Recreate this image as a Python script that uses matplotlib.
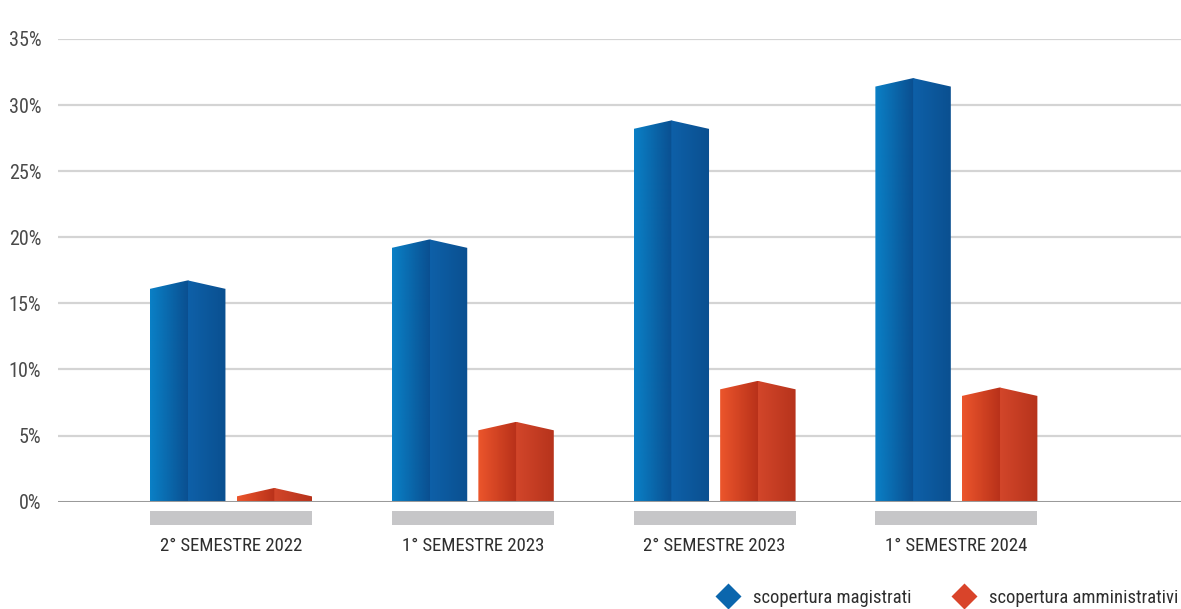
import numpy as np
import matplotlib
matplotlib.use("Agg")
import matplotlib.pyplot as plt
from matplotlib import font_manager
from matplotlib.patches import Polygon, Rectangle
from matplotlib.colors import LinearSegmentedColormap
from matplotlib.lines import Line2D

# Scopertura d'organico per semestre (%)
semesters = ["2° SEMESTRE 2022", "1° SEMESTRE 2023", "2° SEMESTRE 2023", "1° SEMESTRE 2024"]
magistrati = [16.1, 19.2, 28.2, 31.4]
amministrativi = [0.4, 5.4, 8.5, 8.0]
series_names = ["scopertura magistrati", "scopertura amministrativi"]
y_ticks = [0, 5, 10, 15, 20, 25, 30, 35]


def pick_font(names):
    for name in names:
        try:
            font_manager.findfont(name, fallback_to_default=False)
            return name
        except ValueError:
            continue
    return "DejaVu Sans"


FONT = pick_font(["Liberation Sans Narrow", "Roboto Condensed", "Roboto", "DejaVu Sans"])
plt.rcParams["font.family"] = [FONT, "DejaVu Sans"]

BLUE_L = ["#0a80c6", "#0a4d8e"]
BLUE_R = ["#0e60a8", "#0a4f8f"]
RED_L = ["#ec562c", "#b62f19"]
RED_R = ["#d2462a", "#b5321b"]

BAR_W = 0.312
GAP = 0.046
PEAK = 0.64   # height of the roof ridge above the bar value
SEAM = 0.006  # left face runs slightly under the right one


def prism(ax, xc, value, left_cols, right_cols):
    x0, xm, x1 = xc - BAR_W / 2, xc, xc + BAR_W / 2
    top = value + PEAK
    halves = [
        ([(x0, 0), (x0, value), (xm, top), (xm + SEAM, top - 0.05), (xm + SEAM, 0)],
         left_cols, x0, xm),
        ([(xm, 0), (xm, top), (x1, value), (x1, 0)], right_cols, xm, x1),
    ]
    grad = np.linspace(0, 1, 128).reshape(1, -1)
    for verts, cols, a, b in halves:
        poly = Polygon(verts, closed=True, facecolor="none", edgecolor="none")
        ax.add_patch(poly)
        cmap = LinearSegmentedColormap.from_list("half", cols)
        im = ax.imshow(grad, cmap=cmap, extent=(a, b + SEAM, 0, top), aspect="auto",
                       origin="lower", interpolation="bilinear", zorder=3)
        im.set_clip_path(poly)


fig = plt.figure(figsize=(11.81, 6.09), dpi=100)
ax = fig.add_axes([58 / 1181, 0.1762, 1 - 58 / 1181, 0.936 - 0.1762])

x = np.arange(len(semesters))
off = (BAR_W + GAP) / 2
for i in x:
    prism(ax, i - off, magistrati[i], BLUE_L, BLUE_R)
    prism(ax, i + off, amministrativi[i], RED_L, RED_R)
    # grey strip under each group
    ax.add_patch(Rectangle((i - off - BAR_W / 2, -1.74), 2 * off + BAR_W, 1.04,
                           facecolor="#c6c6c8", edgecolor="none", clip_on=False))
    ax.text(i, -3.33, semesters[i], ha="center", va="center",
            fontsize=13.5, color="#2e2e2e")

for t in y_ticks[1:]:
    ax.axhline(t, color="#d4d4d4", lw=1.6, zorder=1)
ax.axhline(0, color="#9a9a9a", lw=2.2, zorder=4)

ax.set_xlim(-0.7155, 3.929)
ax.set_ylim(0, 35)
ax.set_aspect("auto")
ax.set_yticks(y_ticks)
ax.set_yticklabels([f"{t}%" for t in y_ticks])
ax.set_xticks([])
ax.tick_params(axis="y", length=0, pad=12, labelsize=14.5, labelcolor="#4a4a4a")
for s in ax.spines.values():
    s.set_visible(False)

handles = [
    Line2D([], [], marker="D", ls="none", markersize=13.5, markerfacecolor="#0b66ad",
           markeredgecolor="none"),
    Line2D([], [], marker="D", ls="none", markersize=13.5, markerfacecolor="#d9442a",
           markeredgecolor="none"),
]
fig.legend(handles, series_names, loc="center right",
           bbox_to_anchor=(1178 / 1181, 11 / 609), frameon=False, ncol=2,
           fontsize=13.4, handletextpad=0.35, columnspacing=1.8,
           borderpad=0, borderaxespad=0, labelcolor="#2e2e2e")

fig.savefig("out.png", dpi=100)
